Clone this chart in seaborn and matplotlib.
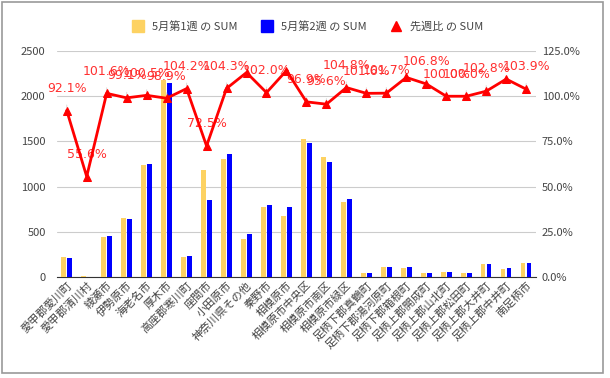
import numpy as np
import pandas as pd
import matplotlib
matplotlib.use("Agg")
import matplotlib.pyplot as plt
from matplotlib.lines import Line2D
from matplotlib.patches import Rectangle
from matplotlib.ticker import FuncFormatter
import seaborn as sns

# data
areas = ["愛甲郡愛川町", "愛甲郡清川村", "綾瀬市", "伊勢原市", "海老名市", "厚木市",
         "高座郡寒川町", "座間市", "小田原市", "神奈川県その他", "秦野市", "相模原市",
         "相模原市中央区", "相模原市南区", "相模原市緑区", "足柄下郡真鶴町",
         "足柄下郡湯河原町", "足柄下郡箱根町", "足柄上郡開成町", "足柄上郡山北町",
         "足柄上郡松田町", "足柄上郡大井町", "足柄上郡中井町", "南足柄市"]
week1 = [220, 9, 443, 652, 1245, 2175, 226, 1185, 1307, 419, 778, 678,
         1530, 1330, 830, 45, 107, 100, 41, 56, 41, 141, 85, 152]
week2 = [207, 5, 450, 646, 1251, 2151, 236, 852, 1363, 474, 796, 774,
         1481, 1274, 859, 46, 111, 110, 44, 56, 41, 145, 96, 158]
ratio = [92.1, 55.6, 101.6, 99.1, 100.5, 98.9, 104.2, 72.5, 104.3, 113.1, 102.0, 114.2,
         96.9, 95.6, 104.8, 101.6, 101.7, 110.4, 106.8, 100.0, 100.0, 102.8, 109.5, 103.9]
# labels Google Charts dropped because of overlap
hidden = [9, 11, 17, 22]

s1 = "5月第1週 の SUM"
s2 = "5月第2週 の SUM"
s3 = "先週比 の SUM"
c1, c2, c3 = "#fdd262", "#0000ff", "#ff0000"

df = pd.DataFrame({"area": areas * 2,
                   "value": week1 + week2,
                   "series": [s1] * len(areas) + [s2] * len(areas)})

sns.set_style("white")
plt.rcParams["font.family"] = ["Noto Sans CJK JP", "DejaVu Sans"]

fig = plt.figure(figsize=(6.1, 3.78), dpi=100)
ax = fig.add_axes([0.093, 0.267, 0.786, 0.598])

sns.barplot(data=df, x="area", y="value", hue="series", order=areas,
            palette=[c1, c2], saturation=1, width=0.6, gap=0.25, ax=ax,
            legend=False, linewidth=0, zorder=3)
ax.set_ylim(0, 2500)
ax.set_yticks(range(0, 2501, 500))
ax.set_xlim(-0.5, len(areas) - 0.5)
ax.grid(axis="y", color="#cccccc", lw=0.8, zorder=0)
ax.set_axisbelow(True)
for sp in ["top", "right", "left"]:
    ax.spines[sp].set_visible(False)
ax.spines["bottom"].set_color("#333333")
ax.set_xlabel("")
ax.set_ylabel("")
ax.tick_params(axis="y", length=0, labelsize=8, labelcolor="#444444", pad=8)
ax.tick_params(axis="x", length=0, labelsize=8, labelcolor="#444444", pad=2)
plt.setp(ax.get_xticklabels(), rotation=45, ha="right", rotation_mode="anchor")

ax2 = ax.twinx()
x = np.arange(len(areas))
sns.lineplot(x=x, y=ratio, color=c3, lw=2, marker="^", markersize=6,
             markeredgecolor=c3, ax=ax2, zorder=4)
ax2.set_ylim(0, 125)
ax2.set_yticks(range(0, 126, 25))
ax2.yaxis.set_major_formatter(FuncFormatter(lambda v, p: f"{v:.1f}%"))
ax2.tick_params(axis="y", length=0, labelsize=8, labelcolor="#444444", pad=4)
for sp in ["top", "right", "left", "bottom"]:
    ax2.spines[sp].set_visible(False)
ax2.set_ylabel("")

for i, r in enumerate(ratio):
    if i in hidden:
        continue
    ax2.annotate(f"{r:.1f}%", xy=(i, r), xytext=(0, 16), textcoords="offset points",
                 ha="center", va="center", fontsize=9, color="#ff3030",
                 family=["DejaVu Sans"],
                 arrowprops=dict(arrowstyle="-", color="#dddddd", lw=0.8,
                                 shrinkA=5, shrinkB=2))

handles = [Line2D([], [], ls="", marker="s", markersize=8, color=c1),
           Line2D([], [], ls="", marker="s", markersize=8, color=c2),
           Line2D([], [], ls="", marker="^", markersize=7, color=c3)]
fig.legend(handles, [s1, s2, s3], loc="center", bbox_to_anchor=(0.5, 0.93),
           ncol=3, frameon=False, fontsize=8, handletextpad=0.3,
           columnspacing=1.6, labelcolor="#444444")

fig.patches.append(Rectangle((0.004, 0.013), 0.984, 0.982, transform=fig.transFigure,
                             fill=False, edgecolor="#999999", lw=1.2))

fig.savefig("out.png", dpi=100)
